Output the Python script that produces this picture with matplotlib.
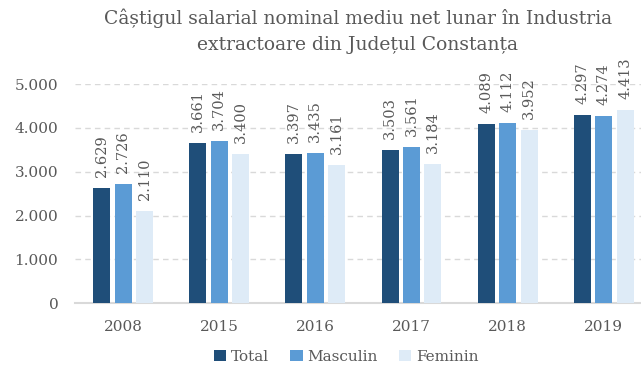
import numpy as np
import matplotlib.pyplot as plt

years = ["2008", "2015", "2016", "2017", "2018", "2019"]
total = [2629, 3661, 3397, 3503, 4089, 4297]
masculin = [2726, 3704, 3435, 3561, 4112, 4274]
feminin = [2110, 3400, 3161, 3184, 3952, 4413]
series = [("Total", total, "#1f4e79"),
          ("Masculin", masculin, "#5b9bd5"),
          ("Feminin", feminin, "#deebf7")]

plt.rcParams['font.family'] = ['DejaVu Serif Condensed', 'DejaVu Serif']
grey = "#595959"

def fmt(v):
    return f"{v:,}".replace(",", ".")

fig = plt.figure(figsize=(6.41, 3.66), dpi=100)
# plot area runs slightly past the right edge of the figure
ax = fig.add_axes([0.117, 0.172, 0.900, 0.598])

x = np.arange(len(years))
step = 0.223
width = 0.177
for i, (name, vals, color) in enumerate(series):
    pos = x + (i - 1) * step
    ax.bar(pos, vals, width, color=color, label=name, zorder=3)
    for px, v in zip(pos, vals):
        ax.annotate(fmt(v), (px, v), xytext=(0, 8), textcoords="offset points",
                    rotation=90, ha="center", va="bottom",
                    fontsize=10.5, color=grey, annotation_clip=False)

ax.set_ylim(0, 5000)
ax.set_xlim(-0.5, len(years) - 0.5)
ax.set_yticks(range(0, 5001, 1000))
ax.set_yticklabels([fmt(v) for v in range(0, 5001, 1000)])
ax.set_xticks(x)
ax.set_xticklabels(years)
ax.tick_params(length=0, labelsize=11, colors=grey)
ax.tick_params(axis="x", pad=12)
ax.tick_params(axis="y", pad=12)
ax.grid(axis="y", color="#d9d9d9", linestyle=(0, (4, 3)), linewidth=1, zorder=0)
for s in ["top", "right", "left"]:
    ax.spines[s].set_visible(False)
ax.spines["bottom"].set_color("#d9d9d9")
ax.spines["bottom"].set_linewidth(1.5)

fig.text(0.558, 0.978, "Câștigul salarial nominal mediu net lunar în Industria\nextractoare din Județul Constanța",
         ha="center", va="top", fontsize=13.5, color=grey, linespacing=1.6)

fig.legend(loc="center", bbox_to_anchor=(0.54, 0.025), ncol=3, frameon=False,
           fontsize=11, handlelength=0.8, handleheight=0.8, handletextpad=0.3,
           columnspacing=1.4, labelcolor=grey)

fig.savefig("out.png", dpi=100)
